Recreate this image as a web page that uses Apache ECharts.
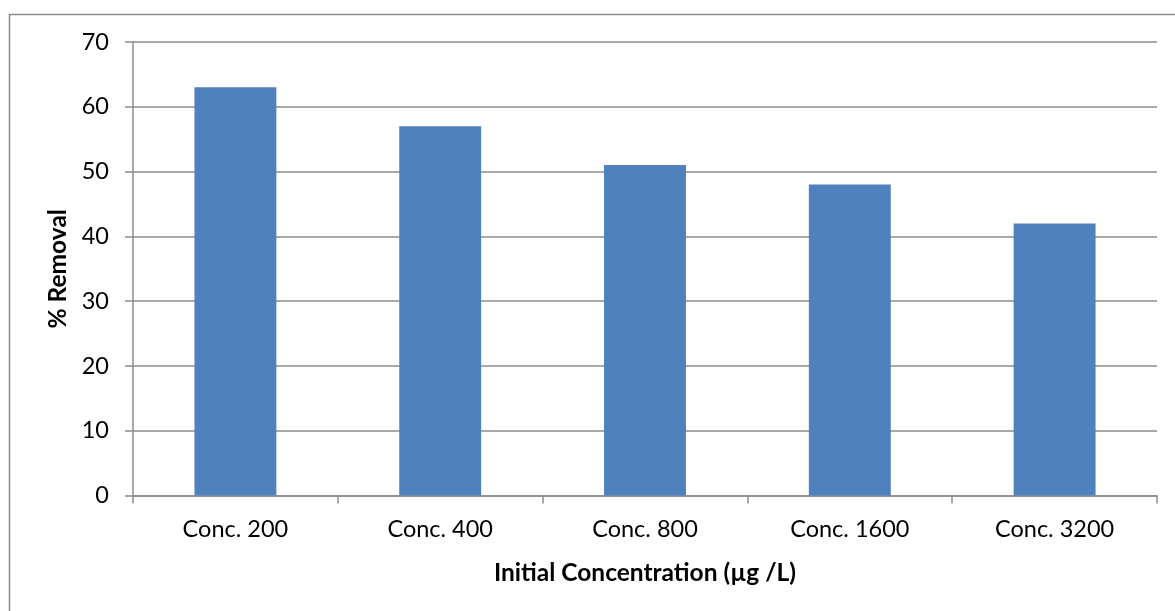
<!DOCTYPE html>
<html><head><meta charset="utf-8">
<script src="https://cdn.jsdelivr.net/npm/echarts@6/dist/echarts.min.js"></script>
<style>html,body{margin:0;padding:0;background:#fff}#c{width:1175px;height:611px}</style>
</head><body><div id="c"></div>
<script>
const categories = ['Conc. 200', 'Conc. 400', 'Conc. 800', 'Conc. 1600', 'Conc. 3200'];
const removal = [63, 57, 51, 48, 42];
const yTicks = { min: 0, max: 70, interval: 10 };
const xTitle = 'Initial Concentration (µg /L)';
const yTitle = '% Removal';

const FONT = 'Lato';
const chart = echarts.init(document.getElementById('c'), null, { renderer: 'canvas' });
chart.setOption({
  animation: false,
  backgroundColor: '#fff',
  graphic: [{
    type: 'rect', left: 7, top: 12, shape: { width: 1300, height: 700 },
    style: { fill: 'none', stroke: '#8c8c8c', lineWidth: 1.5 }, silent: true, z: -1
  }],
  grid: { left: 133, right: 18, top: 42, bottom: 115.5, containLabel: false },
  xAxis: {
    type: 'category', data: categories,
    axisLine: { lineStyle: { color: '#8c8c8c', width: 1.5 } },
    axisTick: { show: true, length: 8, alignWithLabel: false, lineStyle: { color: '#8c8c8c', width: 1.5 } },
    axisLabel: { color: '#000', fontFamily: FONT, fontSize: 23.5, margin: 22 },
    name: xTitle, nameLocation: 'middle', nameGap: 65,
    nameTextStyle: { color: '#000', fontFamily: FONT, fontSize: 24.5, fontWeight: 'bold' }
  },
  yAxis: {
    type: 'value', min: yTicks.min, max: yTicks.max, interval: yTicks.interval,
    axisLine: { show: true, lineStyle: { color: '#8c8c8c', width: 1.5 } },
    axisTick: { show: true, length: 8, lineStyle: { color: '#8c8c8c', width: 1.5 } },
    splitLine: { show: true, lineStyle: { color: '#8c8c8c', width: 1.5 } },
    axisLabel: { color: '#000', fontFamily: FONT, fontSize: 23.5, margin: 24 },
    name: yTitle, nameLocation: 'middle', nameGap: 62, nameRotate: 90,
    nameTextStyle: { color: '#000', fontFamily: FONT, fontSize: 24.5, fontWeight: 'bold' }
  },
  series: [{
    type: 'bar', data: removal, barWidth: '40%',
    itemStyle: { color: '#4F81BD' }
  }]
});
</script></body></html>
